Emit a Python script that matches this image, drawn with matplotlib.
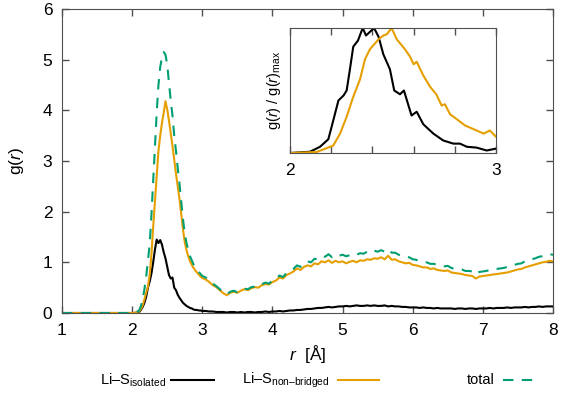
import matplotlib
matplotlib.use("Agg")
import matplotlib.pyplot as plt
from matplotlib.lines import Line2D
import numpy as np

plt.rcParams['font.family'] = ['Liberation Sans', 'DejaVu Sans']
plt.rcParams['mathtext.fontset'] = 'custom'
plt.rcParams['mathtext.rm'] = 'Liberation Sans'
plt.rcParams['mathtext.it'] = 'Liberation Sans:italic'

# r grid: flat part, peak region (0.025 steps), tail (0.05 steps)
r_flat = [1.0]
r_peak = np.round(np.arange(2.0, 3.0001, 0.025), 3)
r_tail = np.round(np.arange(3.05, 8.0001, 0.05), 2)

g_iso_flat = [0.0]
g_iso_peak = [0, 0, 0.005, 0.01, 0.02, 0.06, 0.12, 0.2, 0.32, 0.5,
              0.62, 0.78, 1.0, 1.25, 1.45, 1.38, 1.44, 1.35, 1.2, 1.08,
              0.92, 0.75, 0.68, 0.7, 0.5, 0.45, 0.36, 0.3, 0.25, 0.2,
              0.17, 0.14, 0.12, 0.1, 0.09, 0.07, 0.06, 0.06, 0.05, 0.05,
              0.04]
g_iso_tail = [0.04, 0.03, 0.03, 0.02, 0.02, 0.02, 0.01, 0.02, 0.02, 0.01,
              0.02, 0.01, 0.02, 0.02, 0.01, 0.02, 0.02, 0.03, 0.02, 0.03,
              0.03, 0.04, 0.03, 0.04, 0.05, 0.05, 0.06, 0.06, 0.07, 0.08,
              0.08, 0.09, 0.10, 0.10, 0.11, 0.12, 0.11, 0.12, 0.13, 0.13,
              0.14, 0.13, 0.14, 0.15, 0.14, 0.14, 0.15, 0.14, 0.15, 0.14,
              0.14, 0.15, 0.13, 0.14, 0.13, 0.13, 0.12, 0.12, 0.11, 0.11,
              0.11, 0.10, 0.11, 0.10, 0.10, 0.09, 0.10, 0.09, 0.09, 0.09,
              0.09, 0.08, 0.09, 0.09, 0.08, 0.09, 0.09, 0.08, 0.09, 0.09,
              0.09, 0.10, 0.09, 0.10, 0.10, 0.10, 0.11, 0.10, 0.11, 0.11,
              0.11, 0.12, 0.11, 0.12, 0.12, 0.13, 0.12, 0.13, 0.13, 0.13]

g_nb_flat = [0.0]
g_nb_peak = [0, 0, 0.01, 0.02, 0.03, 0.08, 0.15, 0.27, 0.40, 0.52,
             0.75, 1.15, 1.7, 2.2, 2.7, 3.2, 3.5, 3.75, 3.95, 4.18,
             4.02, 3.8, 3.55, 3.3, 3.02, 2.75, 2.5, 2.25, 1.95, 1.65,
             1.4, 1.24, 1.12, 1.02, 0.95, 0.89, 0.84, 0.8, 0.76, 0.72,
             0.69]
g_nb_tail = [0.66, 0.61, 0.55, 0.51, 0.45, 0.39, 0.35, 0.40, 0.42, 0.40,
             0.44, 0.47, 0.45, 0.49, 0.51, 0.50, 0.55, 0.57, 0.56, 0.61,
             0.64, 0.70, 0.68, 0.75, 0.78, 0.82, 0.88, 0.85, 0.91, 0.94,
             0.92, 0.98, 0.96, 1.02, 1.00, 1.04, 0.99, 1.03, 1.00, 1.02,
             0.98, 1.01, 1.03, 1.00, 1.04, 1.03, 1.06, 1.05, 1.08, 1.07,
             1.10, 1.06, 1.13, 1.05, 1.06, 1.02, 1.00, 0.98, 0.99, 0.95,
             0.94, 0.92, 0.90, 0.90, 0.87, 0.88, 0.85, 0.84, 0.83, 0.84,
             0.80, 0.79, 0.78, 0.77, 0.75, 0.74, 0.73, 0.68, 0.72, 0.73,
             0.74, 0.75, 0.76, 0.77, 0.78, 0.79, 0.80, 0.82, 0.84, 0.86,
             0.87, 0.90, 0.92, 0.94, 0.96, 0.98, 1.00, 1.01, 1.03, 1.02]

g_tot_flat = [0.0]
g_tot_peak = [0, 0, 0.015, 0.03, 0.05, 0.14, 0.27, 0.47, 0.72, 1.02,
              1.37, 1.93, 2.6, 3.3, 3.95, 4.5, 4.85, 5.05, 5.15, 5.1,
              4.9, 4.55, 4.2, 3.9, 3.5, 3.2, 2.86, 2.55, 2.2, 1.85,
              1.57, 1.38, 1.24, 1.12, 1.04, 0.96, 0.9, 0.86, 0.81, 0.77,
              0.73]
g_tot_tail = [0.70, 0.64, 0.58, 0.53, 0.47, 0.41, 0.37, 0.42, 0.44, 0.41,
              0.46, 0.48, 0.47, 0.51, 0.52, 0.52, 0.57, 0.60, 0.58, 0.64,
              0.67, 0.74, 0.71, 0.79, 0.83, 0.87, 0.94, 0.91, 0.98, 1.02,
              1.00, 1.07, 1.06, 1.12, 1.11, 1.16, 1.10, 1.15, 1.13, 1.15,
              1.12, 1.14, 1.17, 1.15, 1.18, 1.17, 1.21, 1.19, 1.23, 1.21,
              1.24, 1.21, 1.26, 1.19, 1.19, 1.15, 1.12, 1.10, 1.10, 1.06,
              1.05, 1.02, 1.01, 1.00, 0.97, 0.97, 0.95, 0.93, 0.92, 0.93,
              0.89, 0.87, 0.87, 0.86, 0.83, 0.83, 0.82, 0.76, 0.81, 0.82,
              0.83, 0.85, 0.85, 0.87, 0.88, 0.89, 0.91, 0.92, 0.95, 0.97,
              0.98, 1.02, 1.03, 1.06, 1.08, 1.11, 1.12, 1.14, 1.16, 1.15]

# inset: normalised g(r)/g(r)max between 2 and 3 A
r_in_iso = [2.0, 2.097, 2.146, 2.186, 2.21, 2.235, 2.26, 2.275, 2.29, 2.307,
            2.33, 2.353, 2.369, 2.408, 2.43, 2.453, 2.485, 2.506, 2.534, 2.553,
            2.59, 2.615, 2.647, 2.696, 2.744, 2.793, 2.825, 2.858, 2.906, 2.955,
            3.0]
n_in_iso = [0, 0.01, 0.05, 0.11, 0.26, 0.42, 0.46, 0.5, 0.66, 0.85,
            0.9, 1.0, 0.94, 1.0, 0.93, 0.79, 0.67, 0.5, 0.47, 0.5,
            0.3, 0.33, 0.23, 0.155, 0.1, 0.075, 0.075, 0.05, 0.043, 0.02,
            0.035]
r_in_nb = [2.0, 2.13, 2.16, 2.21, 2.243, 2.275, 2.307, 2.34, 2.364, 2.388,
           2.43, 2.453, 2.47, 2.493, 2.518, 2.558, 2.583, 2.6, 2.615, 2.647,
           2.68, 2.71, 2.736, 2.752, 2.777, 2.81, 2.85, 2.906, 2.94, 2.97,
           3.0]
n_in_nb = [0, 0.008, 0.027, 0.06, 0.155, 0.29, 0.45, 0.59, 0.75, 0.83,
           0.91, 0.94, 0.95, 1.0, 0.91, 0.83, 0.77, 0.71, 0.73, 0.62,
           0.53, 0.47, 0.38, 0.39, 0.31, 0.27, 0.22, 0.18, 0.155, 0.18,
           0.13]

r = np.concatenate([r_flat, r_peak, r_tail])
g_iso = np.concatenate([g_iso_flat, g_iso_peak, g_iso_tail])
g_nb = np.concatenate([g_nb_flat, g_nb_peak, g_nb_tail])
g_tot = np.concatenate([g_tot_flat, g_tot_peak, g_tot_tail])

black = 'black'
orange = '#E69F00'
green = '#009E73'
frame = '#505050'

W, H = 561, 393
fig = plt.figure(figsize=(W / 100, H / 100), dpi=100)
ax = fig.add_axes([62 / W, 80 / H, 491 / W, 304 / H])

ax.plot(r, g_iso, color=black, lw=1.5)
ax.plot(r, g_nb, color=orange, lw=1.5)
ax.plot(r, g_tot, color=green, lw=1.5, dashes=(5, 4))

ax.set_xlim(1, 8)
ax.set_ylim(0, 6)
ax.set_xticks(range(1, 9))
ax.set_yticks(range(0, 7))
ax.tick_params(direction='in', top=True, right=True, length=5, width=1,
               color=frame, labelsize=12.5, pad=7)
for s in ax.spines.values():
    s.set_color(frame)
ax.set_xlabel(r'$\mathit{r}$  [Å]', fontsize=12.5, labelpad=4)
ax.set_ylabel(r'g($\mathit{r}$)', fontsize=12.5, labelpad=12)

# inset
axi = fig.add_axes([290 / W, 240 / H, 206 / W, 125 / H])
axi.plot(r_in_iso, n_in_iso, color=black, lw=1.5)
axi.plot(r_in_nb, n_in_nb, color=orange, lw=1.5)
axi.set_xlim(2, 3)
axi.set_ylim(0, 1)
axi.set_xticks([2, 3])
axi.set_xticks([2.2, 2.4, 2.6, 2.8], minor=True)
axi.set_yticks([])
axi.tick_params(axis='x', which='both', direction='in', top=True,
                length=5, width=1, color=frame, labelsize=12.5, pad=7)
for s in axi.spines.values():
    s.set_color(frame)
axi.set_ylabel(r'g($\mathit{r}$) / g($\mathit{r}$)$_{\rm max}$', fontsize=10.5,
               labelpad=5)

# legend, gnuplot style: label then sample
ly = 1 - 380 / H
entries = [
    (r'Li–S$_{\rm isolated}$', 166, 171, 214, black, None),
    (r'Li–S$_{\rm non–bridged}$', 330, 338, 379, orange, None),
    ('total', 495, 503, 536, green, (5, 4)),
]
for label, tx, x0, x1, col, ds in entries:
    fig.text(tx / W, ly, label, ha='right', va='center', fontsize=10.5)
    ln = Line2D([x0 / W, x1 / W], [ly, ly], color=col, lw=1.5,
                transform=fig.transFigure)
    if ds:
        ln.set_dashes(ds)
    fig.add_artist(ln)

fig.savefig('out.png', dpi=100)
